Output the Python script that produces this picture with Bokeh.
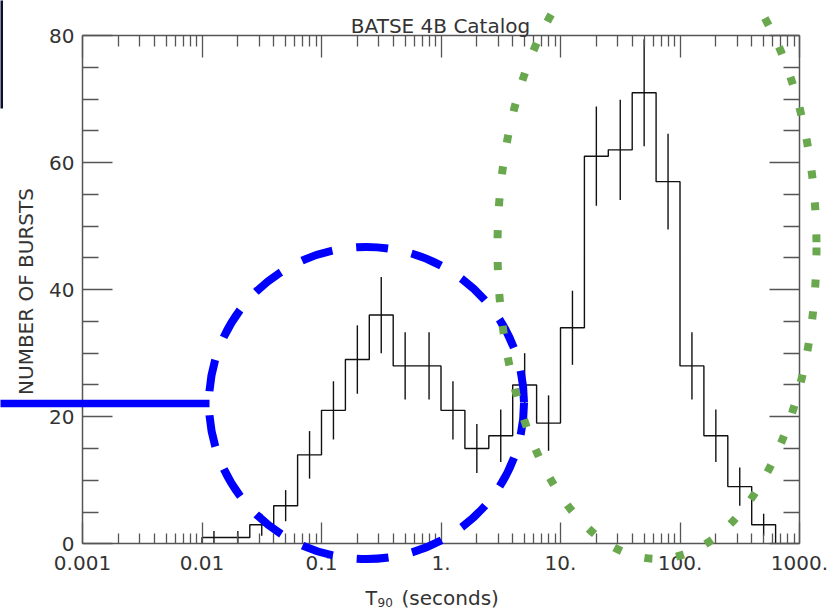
import math
import numpy as np
from bokeh.plotting import figure
from bokeh.models import LogAxis, LinearAxis, FixedTicker, Range1d, Label
from bokeh.embed import file_html
from bokeh.resources import INLINE

# ---------------- data ----------------
bin_edges_log10 = [-2.0, -1.8, -1.6, -1.4, -1.2, -1.0, -0.8, -0.6, -0.4, -0.2,
                   0.0, 0.2, 0.4, 0.6, 0.8, 1.0, 1.2, 1.4, 1.6, 1.8,
                   2.0, 2.2, 2.4, 2.6, 2.8]
counts = [1, 1, 3, 6, 14, 21, 29, 36, 28, 28,
          21, 15, 17, 25, 19, 34, 61, 62, 71, 57,
          28, 17, 9, 3]
x_major_ticks = [0.001, 0.01, 0.1, 1, 10, 100, 1000]
x_tick_labels = ["0.001", "0.01", "0.1", "1.", "10.", "100.", "1000."]
y_major_ticks = [0, 20, 40, 60, 80]
y_minor_ticks = [5, 10, 15, 25, 30, 35, 45, 50, 55, 65, 70, 75]
title_text = "BATSE 4B Catalog"
y_title = "NUMBER OF BURSTS"
x_title_main = "T"
x_title_sub = "90"
x_title_unit = "(seconds)"

x_minor_ticks = [m * 10.0 ** k for k in range(-3, 3) for m in range(2, 10)]

# ---------------- layout (pixel geometry of the frame) ----------------
W, H = 831, 613
FL, FR, FT, FB = 82.0, 799.0, 35.0, 543.3
X_LOG0, X_LOG1 = -3.0, 3.0
Y0, Y1 = 0.0, 80.0


def xd(px):
    return 10 ** (X_LOG0 + (X_LOG1 - X_LOG0) * (px - FL) / (FR - FL))


def yd(py):
    return Y0 + (Y1 - Y0) * (FB - py) / (FB - FT)


FONT = "DejaVu Sans"
TXT = "#333333"
AX = "#555555"

p = figure(width=W, height=H, x_axis_type="log",
           x_range=Range1d(xd(0), xd(W)), y_range=Range1d(yd(H), yd(0)),
           x_axis_location=None, y_axis_location=None,
           toolbar_location=None, output_backend="svg", title=None,
           min_border=0, min_border_left=0, min_border_right=0,
           min_border_top=0, min_border_bottom=0)
p.outline_line_color = None
p.background_fill_color = "white"
p.border_fill_color = "white"
p.xgrid.visible = False
p.ygrid.visible = False


def style_axis(ax, tin, tmin):
    ax.axis_line_color = AX
    ax.axis_line_width = 1.5
    ax.major_tick_line_color = AX
    ax.major_tick_line_width = 1.3
    ax.minor_tick_line_color = AX
    ax.minor_tick_line_width = 1.3
    ax.major_tick_in = tin
    ax.major_tick_out = 0
    ax.minor_tick_in = tmin
    ax.minor_tick_out = 0
    ax.major_label_text_font = FONT
    ax.major_label_text_font_size = "20px"
    ax.major_label_text_color = TXT


bottom = LogAxis(fixed_location=Y0, bounds=(x_major_ticks[0], x_major_ticks[-1]),
                 ticker=FixedTicker(ticks=x_major_ticks, minor_ticks=x_minor_ticks),
                 major_label_overrides=dict(zip(x_major_ticks, x_tick_labels)),
                 major_label_standoff=12)
style_axis(bottom, 21, 10)
p.add_layout(bottom, "below")

top = LogAxis(fixed_location=Y1, bounds=(x_major_ticks[0], x_major_ticks[-1]),
              ticker=FixedTicker(ticks=x_major_ticks, minor_ticks=x_minor_ticks),
              major_label_overrides={t: "" for t in x_major_ticks})
style_axis(top, 22, 11)
top.major_label_text_color = None
p.add_layout(top, "above")

left = LinearAxis(fixed_location=x_major_ticks[0], bounds=(Y0, Y1),
                  ticker=FixedTicker(ticks=y_major_ticks, minor_ticks=y_minor_ticks),
                  major_label_standoff=8)
style_axis(left, 30, 16)
p.add_layout(left, "left")

right = LinearAxis(fixed_location=x_major_ticks[-1], bounds=(Y0, Y1),
                   ticker=FixedTicker(ticks=y_major_ticks, minor_ticks=y_minor_ticks),
                   major_label_overrides={t: "" for t in y_major_ticks})
style_axis(right, 30, 16)
right.major_label_text_color = None
p.add_layout(right, "right")

# ---------------- histogram ----------------
edges = np.array(bin_edges_log10)
cnt = np.array(counts, dtype=float)
hx = [10 ** edges[0]]
hy = [0.0]
for i, c in enumerate(cnt):
    hx += [10 ** edges[i], 10 ** edges[i + 1]]
    hy += [c, c]
hx.append(10 ** edges[-1])
hy.append(0.0)
p.line(hx, hy, line_color="#111111", line_width=1.4)

centers = 10 ** ((edges[:-1] + edges[1:]) / 2)
err = np.sqrt(cnt)
p.segment(x0=centers, y0=cnt - err, x1=centers, y1=cnt + err,
          line_color="#111111", line_width=1.4)

# ---------------- texts ----------------
p.add_layout(Label(x=xd(440), y=yd(25), text=title_text, text_align="center",
                   text_baseline="alphabetic", text_font=FONT,
                   text_font_size="20px", text_color=TXT))
p.add_layout(Label(x=xd(25), y=yd(291), text=y_title, angle=math.pi / 2,
                   text_align="center", text_baseline="alphabetic",
                   text_font=FONT, text_font_size="20px", text_color=TXT))
p.add_layout(Label(x=xd(365), y=yd(597), text=x_title_main, text_align="left",
                   text_baseline="alphabetic", text_font=FONT,
                   text_font_size="19px", text_color=TXT))
p.add_layout(Label(x=xd(377), y=yd(602), text=x_title_sub, text_align="left",
                   text_baseline="alphabetic", text_font=FONT,
                   text_font_size="12px", text_color=TXT))
p.add_layout(Label(x=xd(401), y=yd(597), text=x_title_unit, text_align="left",
                   text_baseline="alphabetic", text_font=FONT,
                   text_font_size="20px", text_color=TXT))

# ---------------- hand-drawn overlay marks ----------------
p.quad(left=xd(0), right=xd(2.5), top=yd(0), bottom=yd(108),
       fill_color="#0b1030", line_color=None, level="overlay")
p.segment(x0=xd(0), y0=yd(403), x1=xd(209), y1=yd(403),
          line_color="#0000ff", line_width=7.5, line_cap="butt", level="overlay")
p.ellipse(x=xd(366), y=yd(402.5), width=315, height=312,
          width_units="screen", height_units="screen",
          fill_color=None, line_color="#0000ff", line_width=8,
          line_dash="32 24", line_cap="butt", level="overlay")
p.ellipse(x=xd(656.5), y=yd(247), width=319, height=623,
          width_units="screen", height_units="screen",
          fill_color=None, line_color="#6aa84f", line_width=8,
          line_dash="8 24", line_cap="butt", level="overlay")

open("out.html", "w").write(file_html(p, INLINE))
